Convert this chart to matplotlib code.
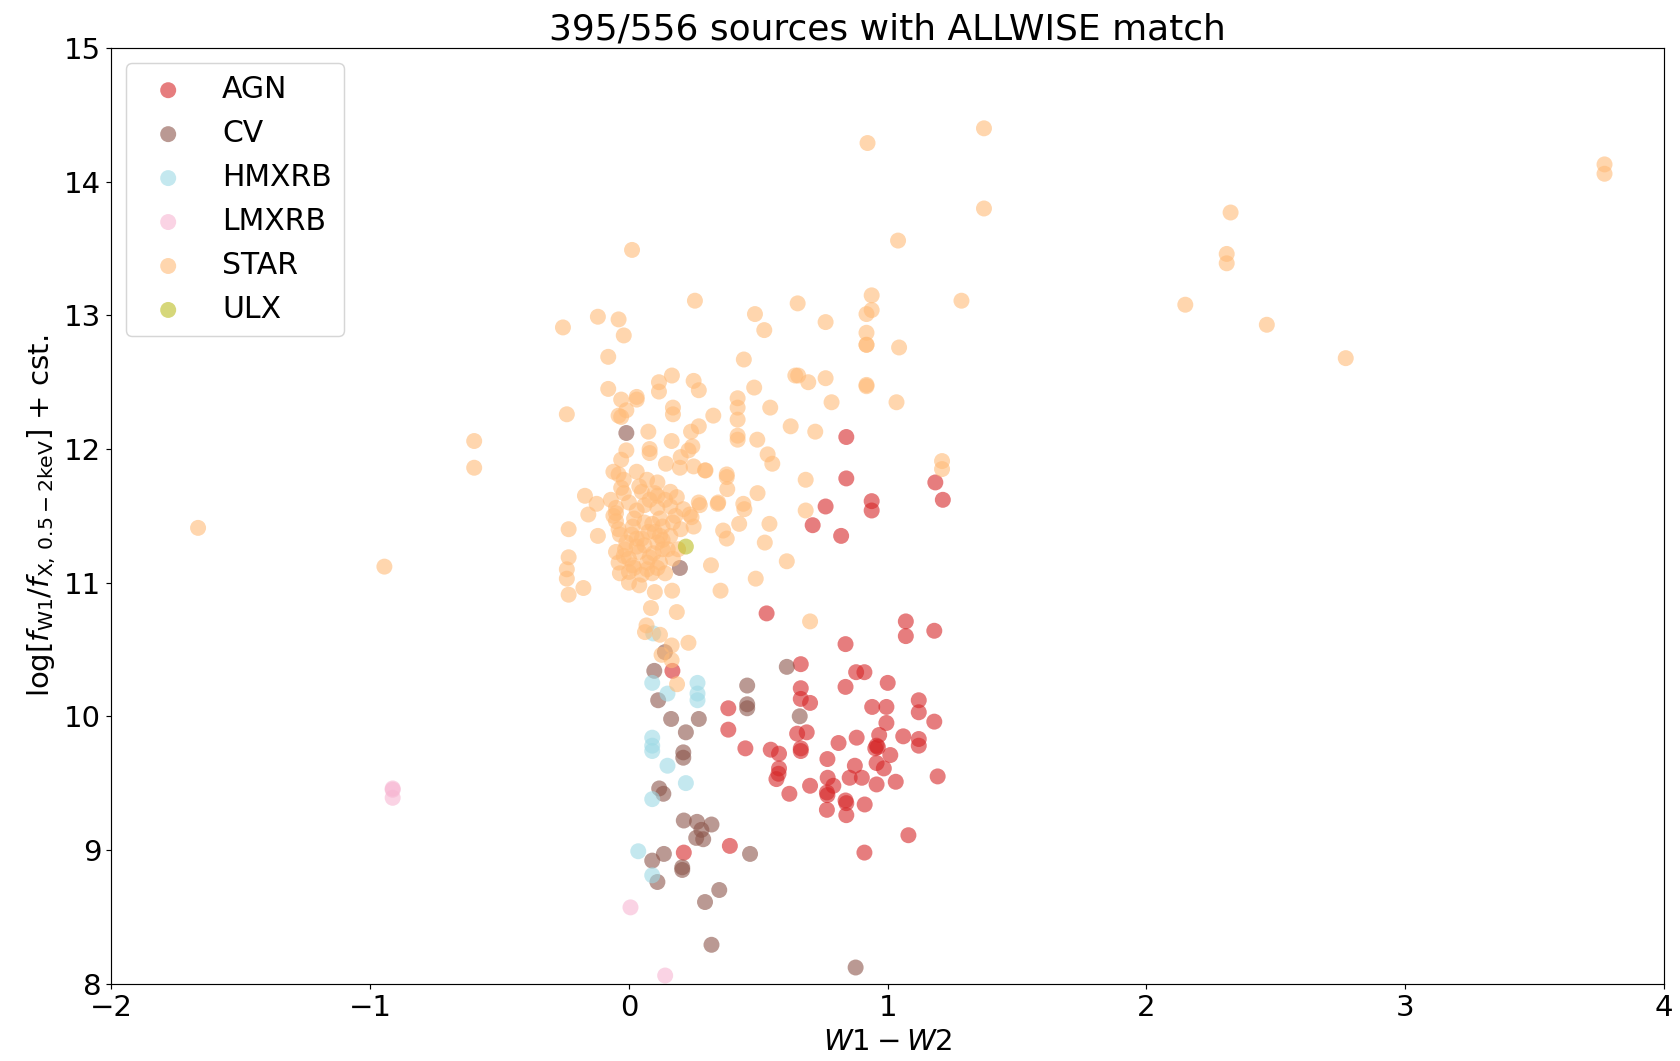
import matplotlib
matplotlib.use("Agg")
import matplotlib.pyplot as plt

# W1-W2 colour and log flux ratio for each class
agn_x = [0.84, 0.84, 1.184, 1.213, 0.938, 0.938, 0.76, 0.71, 0.82, 0.532, 1.07, 1.07, 1.18,
         0.837, 0.664, 0.878, 0.91, 0.168, 0.837, 0.664, 0.664, 0.70, 1.0, 0.94, 0.995, 0.995,
         1.12, 1.12, 1.18, 0.384, 0.384, 0.45, 0.65, 0.687, 0.664, 0.664, 0.81, 0.88, 0.967,
         0.957, 0.962, 0.952, 1.06, 1.12, 1.12, 1.01, 0.957, 0.985, 0.767, 0.873, 0.853, 0.9,
         0.768, 0.79, 0.765, 0.767, 0.765, 0.837, 0.84, 0.84, 0.911, 0.957, 1.031, 1.193, 0.70,
         0.62, 0.548, 0.58, 0.58, 0.578, 0.57, 1.08, 0.91, 0.39, 0.212]
agn_y = [12.09, 11.78, 11.75, 11.62, 11.61, 11.54, 11.57, 11.43, 11.35, 10.77, 10.71, 10.60, 10.64,
         10.54, 10.39, 10.33, 10.33, 10.34, 10.22, 10.21, 10.13, 10.10, 10.25, 10.07, 10.07, 9.95,
         10.12, 10.03, 9.96, 10.06, 9.90, 9.76, 9.87, 9.88, 9.76, 9.74, 9.80, 9.84, 9.86,
         9.78, 9.77, 9.76, 9.85, 9.83, 9.78, 9.71, 9.65, 9.61, 9.68, 9.63, 9.54, 9.54,
         9.54, 9.48, 9.43, 9.41, 9.30, 9.37, 9.35, 9.26, 9.34, 9.49, 9.51, 9.55, 9.48,
         9.42, 9.75, 9.72, 9.61, 9.57, 9.53, 9.11, 8.98, 9.03, 8.98]

cv_x = [-0.01, 0.197, 0.139, 0.098, 0.113, 0.163, 0.27, 0.22, 0.21, 0.21, 0.117, 0.133,
        0.212, 0.263, 0.319, 0.28, 0.26, 0.287, 0.135, 0.09, 0.11, 0.206, 0.206, 0.349,
        0.294, 0.319, 0.876, 0.457, 0.457, 0.457, 0.468, 0.61, 0.66]
cv_y = [12.12, 11.11, 10.48, 10.34, 10.12, 9.98, 9.98, 9.88, 9.73, 9.69, 9.46, 9.42,
        9.22, 9.21, 9.19, 9.15, 9.09, 9.08, 8.97, 8.92, 8.76, 8.87, 8.85, 8.70,
        8.61, 8.29, 8.12, 10.23, 10.09, 10.06, 8.97, 10.37, 10.00]

hmxrb_x = [0.094, 0.09, 0.149, 0.265, 0.265, 0.265, 0.09, 0.09, 0.09, 0.149, 0.22, 0.09, 0.036, 0.09]
hmxrb_y = [10.62, 10.25, 10.17, 10.25, 10.17, 10.12, 9.84, 9.78, 9.74, 9.63, 9.50, 9.38, 8.99, 8.81]

lmxrb_x = [-0.913, -0.913, -0.913, 0.006, 0.14]
lmxrb_y = [9.46, 9.45, 9.39, 8.57, 8.06]

star_x = [-1.665, -0.945, -0.598, -0.598, 0.922, 1.372, 1.372, 1.04, 3.77, 3.77, 2.325, 2.31,
          2.31, 2.15, 2.465, 2.77, 1.285,
          0.012, 0.255, 0.938, 0.938, 0.918, 0.652, 0.487, 0.523, 0.76, 0.918, 0.918, 0.918,
          1.044, 0.444, 0.643, 0.654, 0.693, 0.76, 0.918, 0.918, 0.484, 0.42, 0.42, 0.42, 0.42,
          0.42, 0.546, 0.783, 1.034, 0.326, 0.625, 0.72, 0.496, 0.536, 0.554, 1.21, 1.21,
          0.378, 0.378, 0.38, 0.294, 0.497, 0.683, 0.343, 0.442, 0.446, 0.683, 0.274, 0.426,
          0.543, 0.364, 0.378, 0.525,
          -0.255, -0.12, -0.04, -0.02, -0.08, -0.08, -0.03, 0.03, 0.03, -0.04, -0.03, -0.01,
          -0.24, 0.116, 0.116, 0.166, 0.25, 0.27, 0.17, 0.17, 0.075, 0.165, 0.24, 0.27, 0.245,
          0.23, 0.08, 0.08, -0.01, 0.2,
          -0.03, 0.143, 0.197, 0.25, 0.296, -0.06, -0.04, -0.02, 0.03, 0.07, 0.11, -0.03,
          -0.02, 0.05, 0.10, 0.16, 0.185,
          -0.17, -0.125, -0.157, -0.233, -0.12, -0.233, -0.24, -0.24, -0.233, -0.176,
          -0.07, -0.05, 0.0, 0.03, 0.08, 0.11, 0.16, 0.18, 0.235, 0.27, 0.345, 0.25, 0.242,
          -0.05, -0.035, 0.015, 0.03, 0.075, 0.11, 0.13, 0.16, 0.19,
          -0.05, -0.015, 0.04, 0.095, 0.13, 0.12, 0.07, 0.015, -0.035, 0.0, 0.05, 0.09, 0.14,
          0.0, 0.04, 0.10, 0.167,
          0.317, 0.354, 0.49, 0.61, 0.70,
          -0.06, 0.02, 0.06, 0.12, 0.14, 0.2, -0.01, 0.06, 0.1, 0.0, 0.17, 0.21, 0.04, -0.04,
          0.11,
          -0.04, 0.01, 0.05, 0.09, 0.13, 0.17, -0.02, 0.03, 0.08, 0.12, 0.15, 0.02, 0.07, 0.11,
          -0.05, 0.06,
          0.085, 0.185, 0.068, 0.062, 0.12, 0.165, 0.23, 0.126, 0.165, 0.186]
star_y = [11.41, 11.12, 12.06, 11.86, 14.29, 14.40, 13.80, 13.56, 14.13, 14.06, 13.77, 13.46,
          13.39, 13.08, 12.93, 12.68, 13.11,
          13.49, 13.11, 13.15, 13.04, 13.01, 13.09, 13.01, 12.89, 12.95, 12.87, 12.78, 12.78,
          12.76, 12.67, 12.55, 12.55, 12.50, 12.53, 12.48, 12.47, 12.46, 12.38, 12.31, 12.22, 12.10,
          12.07, 12.31, 12.35, 12.35, 12.25, 12.17, 12.13, 12.07, 11.96, 11.89, 11.91, 11.85,
          11.81, 11.79, 11.70, 11.84, 11.67, 11.77, 11.59, 11.59, 11.55, 11.54, 11.58, 11.44,
          11.44, 11.39, 11.33, 11.30,
          12.91, 12.99, 12.97, 12.85, 12.69, 12.45, 12.37, 12.39, 12.37, 12.25, 12.24, 12.29,
          12.26, 12.50, 12.43, 12.55, 12.51, 12.44, 12.31, 12.26, 12.13, 12.06, 12.13, 12.17, 12.02,
          11.99, 12.00, 11.97, 11.99, 11.94,
          11.92, 11.89, 11.86, 11.87, 11.84, 11.83, 11.81, 11.77, 11.83, 11.77, 11.75, 11.71,
          11.67, 11.68, 11.67, 11.68, 11.64,
          11.65, 11.59, 11.51, 11.40, 11.35, 11.19, 11.10, 11.03, 10.91, 10.96,
          11.62, 11.56, 11.60, 11.54, 11.62, 11.56, 11.57, 11.50, 11.51, 11.60, 11.60, 11.42, 11.49,
          11.46, 11.36, 11.42, 11.33, 11.38, 11.30, 11.42, 11.35, 11.25,
          11.23, 11.25, 11.23, 11.22, 11.25, 11.15, 11.15, 11.13, 11.07, 11.08, 11.06, 11.07, 11.07,
          11.00, 10.98, 10.93, 10.94,
          11.13, 10.94, 11.03, 11.16, 10.71,
          11.50, 11.48, 11.45, 11.48, 11.62, 11.40, 11.30, 11.28, 11.38, 11.18, 11.18, 11.55, 11.72,
          11.15, 11.11,
          11.40, 11.36, 11.33, 11.44, 11.32, 11.45, 11.20, 11.27, 11.19, 11.35, 11.25, 11.11, 11.10,
          11.65, 11.52, 11.58,
          10.81, 10.78, 10.68, 10.63, 10.61, 10.53, 10.55, 10.46, 10.42, 10.24]

ulx_x = [0.22]
ulx_y = [11.27]

classes = ["AGN", "CV", "HMXRB", "LMXRB", "STAR", "ULX"]
xs = [agn_x, cv_x, hmxrb_x, lmxrb_x, star_x, ulx_x]
ys = [agn_y, cv_y, hmxrb_y, lmxrb_y, star_y, ulx_y]
colors = ["#d62728", "#8c564b", "#9edae5", "#f7b6d2", "#ffbb78", "#bcbd22"]

plt.rcParams["font.size"] = 20

fig = plt.figure(figsize=(16, 10.105), dpi=105)
ax = fig.add_axes([0.0663, 0.0730, 0.9242, 0.8816])

for name, x, y, c in zip(classes, xs, ys, colors):
    ax.scatter(x, y, s=120, color=c, alpha=0.6, edgecolors="none", label=name)

ax.set_xlim(-2, 4)
ax.set_ylim(8, 15)
ax.set_xlabel(r"$W1-W2$")
ax.set_ylabel(r"$\log[f_{\rm W1}/f_{\rm X,\,0.5-2keV}]$ + cst.")
ax.set_title("395/556 sources with ALLWISE match", fontsize=24.7)
ax.legend(loc="upper left", fontsize=20.5)

fig.savefig("out.png", dpi=105)
